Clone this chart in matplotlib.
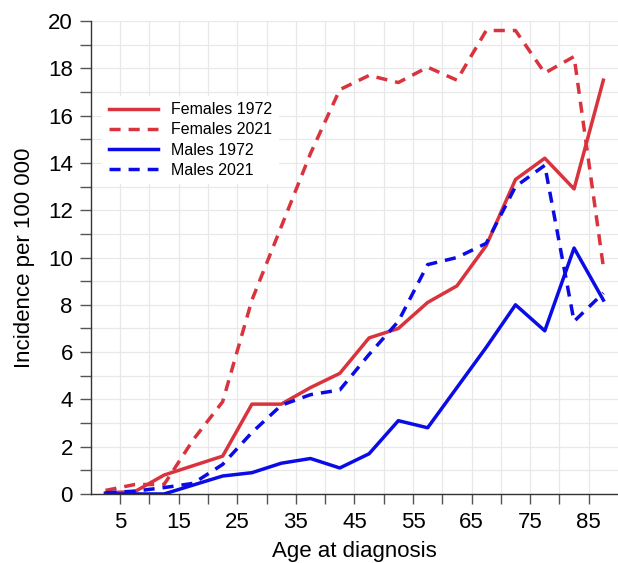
import matplotlib
matplotlib.use("Agg")
import matplotlib.pyplot as plt
import numpy as np

plt.rcParams['font.family'] = ['Liberation Sans', 'DejaVu Sans']

ages = [2.5, 7.5, 12.5, 17.5, 22.5, 27.5, 32.5, 37.5, 42.5, 47.5,
        52.5, 57.5, 62.5, 67.5, 72.5, 77.5, 82.5, 87.5]
females_1972 = [0.05, 0.1, 0.8, 1.2, 1.6, 3.8, 3.8, 4.5, 5.1, 6.6,
                7.0, 8.1, 8.8, 10.5, 13.3, 14.2, 12.9, 17.5]
females_2021 = [0.15, 0.4, 0.4, 2.3, 3.9, 8.2, 11.3, 14.4, 17.1, 17.7,
                17.4, 18.05, 17.5, 19.6, 19.6, 17.8, 18.5, 9.6]
males_1972 = [0.0, 0.0, 0.0, 0.38, 0.76, 0.9, 1.3, 1.5, 1.1, 1.7,
              3.1, 2.8, 4.5, 6.2, 8.0, 6.9, 10.4, 8.2]
males_2021 = [0.05, 0.12, 0.27, 0.45, 1.25, 2.6, 3.75, 4.2, 4.4, 5.9,
              7.3, 9.7, 10.0, 10.6, 13.0, 13.9, 7.3, 8.5]

x_labels = [5, 15, 25, 35, 45, 55, 65, 75, 85]
y_labels = [0, 2, 4, 6, 8, 10, 12, 14, 16, 18, 20]

red = '#d9343d'
blue = '#0b0be6'

fig = plt.figure(figsize=(6.18, 5.63), dpi=100)
ax = fig.add_axes([0.147, 0.1226, 0.853, 0.840])

lw = 2.5
dash = (0, (3.2, 2.3))
ax.plot(ages, females_1972, color=red, lw=lw, label='Females 1972')
ax.plot(ages, females_2021, color=red, lw=lw, ls=dash, label='Females 2021')
ax.plot(ages, males_1972, color=blue, lw=lw, label='Males 1972')
ax.plot(ages, males_2021, color=blue, lw=lw, ls=dash, label='Males 2021')

ax.set_xlim(0, 90)
ax.set_ylim(0, 20)
ax.set_xticks(x_labels)
ax.set_xticks([10, 20, 30, 40, 50, 60, 70, 80], minor=True)
ax.set_yticks(y_labels)
ax.set_yticks(list(range(1, 20, 2)), minor=True)
ax.grid(True, which='both', color='#e8e8e8', lw=0.9)
ax.set_axisbelow(True)

for s in ['top', 'right']:
    ax.spines[s].set_visible(False)
for s in ['left', 'bottom']:
    ax.spines[s].set_color('#333333')
    ax.spines[s].set_linewidth(1.0)

ax.tick_params(axis='both', which='both', direction='out', color='#555555', width=1.0)
ax.tick_params(axis='y', which='both', length=8, labelsize=16, pad=5)
ax.tick_params(axis='x', which='both', length=7, labelsize=16, pad=6)

ax.set_xlabel('Age at diagnosis', fontsize=16, labelpad=6)
ax.set_ylabel('Incidence per 100 000', fontsize=16, labelpad=9)

leg = ax.legend(loc='upper left', bbox_to_anchor=(0.022, 0.842), fontsize=11.5,
                frameon=True, framealpha=1.0, edgecolor='none', facecolor='white',
                handlelength=3.1, labelspacing=0.33, handletextpad=0.8,
                borderaxespad=0.0)

fig.savefig('out.png', dpi=100)
